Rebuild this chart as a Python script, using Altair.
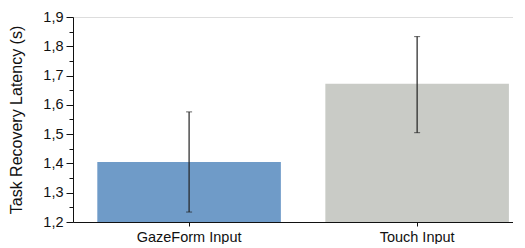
import altair as alt
import pandas as pd

categories = ["GazeForm Input", "Touch Input"]
means = [1.405, 1.672]
err_low = [1.234, 1.505]
err_high = [1.576, 1.833]
bar_colors = ["#6f9bc8", "#c9cbc6"]
y_ticks = [1.2, 1.25, 1.3, 1.35, 1.4, 1.45, 1.5, 1.55, 1.6, 1.65, 1.7, 1.75, 1.8, 1.85, 1.9]

df = pd.DataFrame({
    "cat": categories,
    "mean": means,
    "lo": err_low,
    "hi": err_high,
    "color": bar_colors,
})

xscale = alt.Scale(paddingInner=0.195, paddingOuter=0.082, align=0.65)
yscale = alt.Scale(domain=[1.2, 1.9], zero=False, nice=False)

x_axis = alt.Axis(labelAngle=0, labelFont="Liberation Sans", labelFontSize=14.5,
                  labelColor="#111", domainColor="#111", tickColor="#111",
                  tickSize=4, labelPadding=4)
y_axis = alt.Axis(values=y_ticks, grid=False,
                  labelExpr="round(datum.value*20) % 2 == 0 ? replace(format(datum.value, '.1f'), '.', ',') : ''",
                  tickSize={"condition": {"test": "round(datum.value*20) % 2 == 0", "value": 7}, "value": 4},
                  labelFont="Liberation Sans", labelFontSize=14.5, labelColor="#111",
                  titleFont="Liberation Sans", titleFontSize=16, titleFontWeight="normal",
                  titleColor="#111", domainColor="#111", tickColor="#111",
                  labelPadding=3, titlePadding=18)
y_title = "Task Recovery Latency (s)"

bars = alt.Chart(df).mark_bar().encode(
    x=alt.X("cat:N", scale=xscale, sort=categories, title=None, axis=x_axis),
    y=alt.Y("mean:Q", scale=yscale, title=y_title, axis=y_axis),
    y2=alt.Y2Datum(1.2),
    color=alt.Color("color:N", scale=None),
)

errs = alt.Chart(df).mark_errorbar(ticks={"size": 6, "color": "#222", "strokeWidth": 1.2},
                                   rule={"color": "#222", "strokeWidth": 1.2}).encode(
    x=alt.X("cat:N", scale=xscale, sort=categories, title=None, axis=x_axis),
    y=alt.Y("lo:Q", scale=yscale, title=y_title, axis=y_axis),
    y2="hi:Q",
)

chart = (bars + errs).properties(
    width=449, height=205, padding={"left": 0, "top": 1, "right": -9, "bottom": 0}
).configure_view(stroke=None).configure(background="white")

chart.save("out.html", embed_options={"renderer": "svg", "actions": False})
